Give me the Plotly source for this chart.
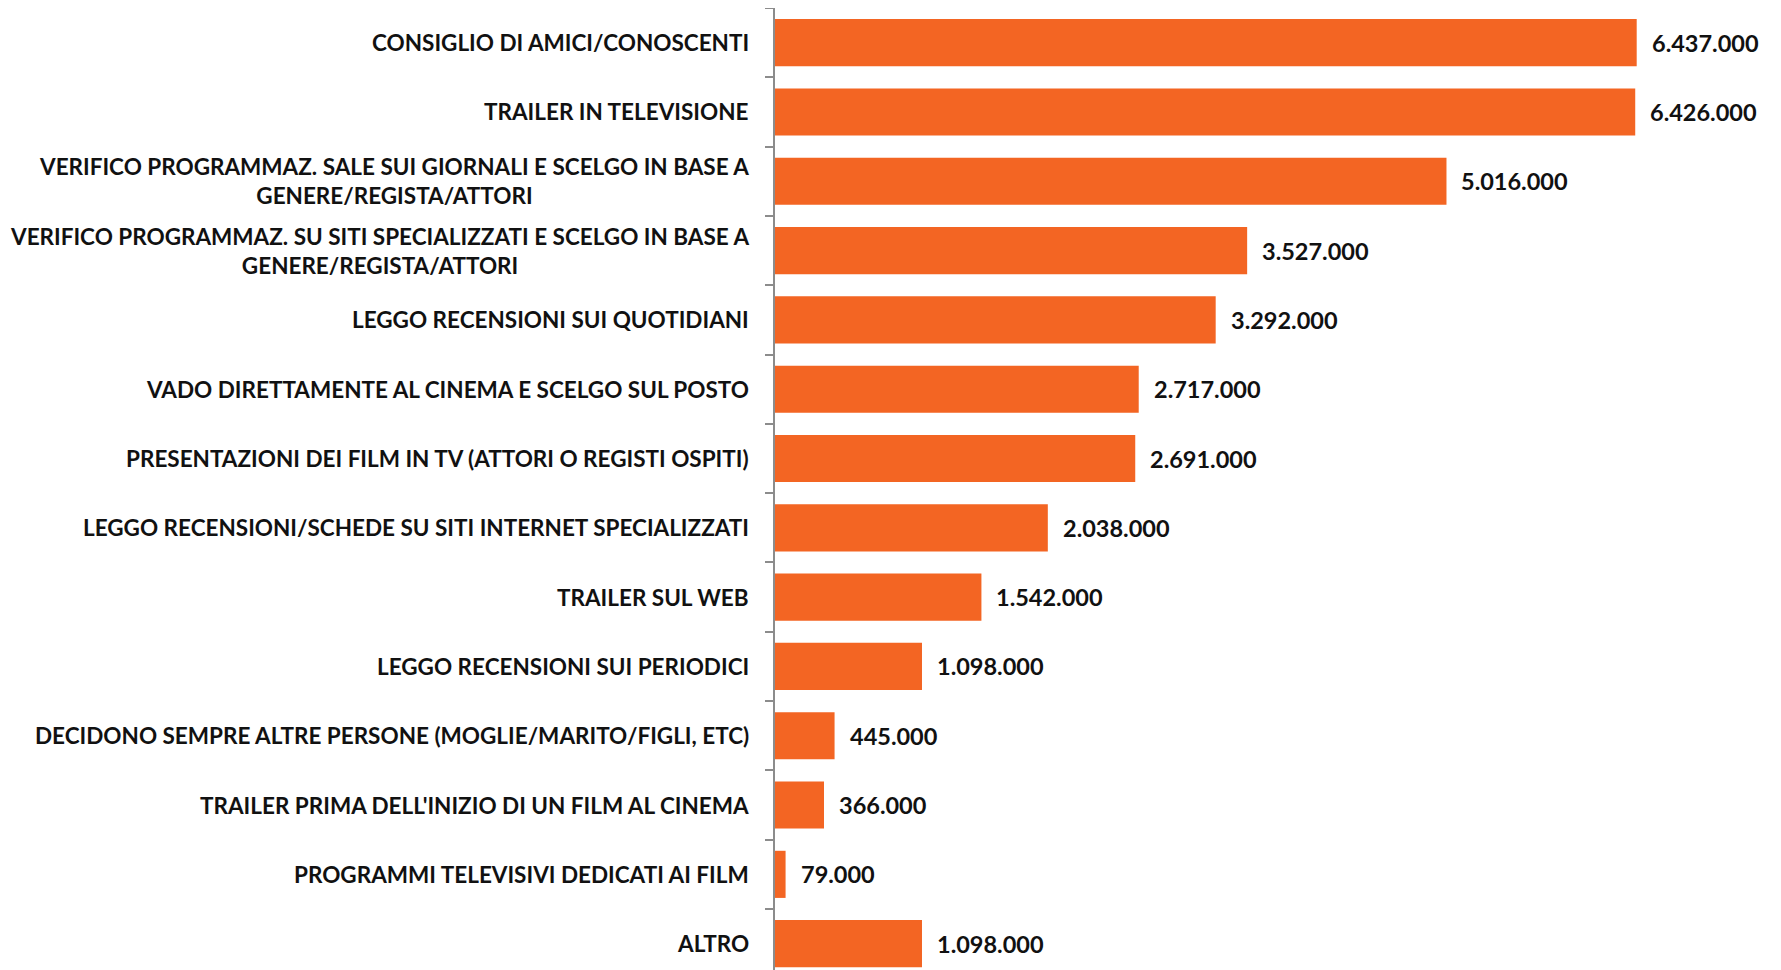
import plotly.graph_objects as go

categories = [
    "CONSIGLIO DI AMICI/CONOSCENTI",
    "TRAILER IN TELEVISIONE",
    "VERIFICO PROGRAMMAZ. SALE SUI GIORNALI E SCELGO IN BASE A<br>GENERE/REGISTA/ATTORI",
    "VERIFICO PROGRAMMAZ. SU SITI SPECIALIZZATI E SCELGO IN BASE A<br>GENERE/REGISTA/ATTORI",
    "LEGGO RECENSIONI SUI QUOTIDIANI",
    "VADO DIRETTAMENTE AL CINEMA E SCELGO SUL POSTO",
    "PRESENTAZIONI DEI FILM IN TV (ATTORI O REGISTI OSPITI)",
    "LEGGO RECENSIONI/SCHEDE SU SITI INTERNET SPECIALIZZATI",
    "TRAILER SUL WEB",
    "LEGGO RECENSIONI SUI PERIODICI",
    "DECIDONO SEMPRE ALTRE PERSONE (MOGLIE/MARITO/FIGLI, ETC)",
    "TRAILER PRIMA DELL'INIZIO DI UN FILM AL CINEMA",
    "PROGRAMMI TELEVISIVI DEDICATI AI FILM",
    "ALTRO",
]
values = [6437000, 6426000, 5016000, 3527000, 3292000, 2717000, 2691000,
          2038000, 1542000, 1098000, 445000, 366000, 79000, 1098000]
value_labels = [f"{v:,}".replace(",", ".") for v in values]

cat_font = dict(family="Lato", size=22.5, color="#111111", weight=700)
val_font = dict(family="Lato", size=23.5, color="#111111", weight=700)

fig = go.Figure()

fig.add_trace(
    go.Bar(
        x=values,
        y=list(range(len(categories))),
        orientation="h",
        width=0.68,
        marker=dict(color="#F36523", line=dict(width=0)),
        hoverinfo="skip",
    )
)

annotations = []
for i, (cat, v, lab) in enumerate(zip(categories, values, value_labels)):
    annotations.append(dict(
        x=0, xref="paper", y=i, yref="y", text=cat, showarrow=False,
        xanchor="right", yanchor="middle", xshift=-24, align="center", font=cat_font,
    ))
    annotations.append(dict(
        x=v, xref="x", y=i, yref="y", text=lab, showarrow=False,
        xanchor="left", yanchor="middle", xshift=13, font=val_font,
    ))

fig.update_layout(
    width=1773,
    height=962,
    margin=dict(l=767, r=2, t=0, b=0),
    plot_bgcolor="white",
    paper_bgcolor="white",
    showlegend=False,
    annotations=annotations,
    xaxis=dict(range=[0, 7.5e6], visible=False),
    yaxis=dict(
        type="linear",
        range=[13.38, -0.5],
        tickmode="array",
        tickvals=[i - 0.5 for i in range(len(categories) + 1)],
        ticks="outside",
        ticklen=8,
        tickwidth=1.5,
        tickcolor="#8c8c8c",
        showticklabels=False,
        showgrid=False,
        zeroline=False,
        showline=True,
        linecolor="#8c8c8c",
        linewidth=1.5,
    ),
)

fig.write_html("out.html")
